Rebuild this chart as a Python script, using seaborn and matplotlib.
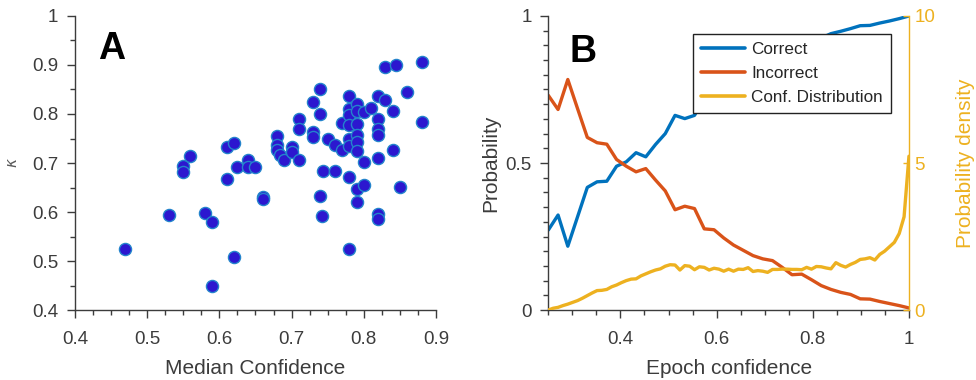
import numpy as np
import pandas as pd
import matplotlib
matplotlib.use("Agg")
import matplotlib.pyplot as plt
from matplotlib.ticker import MultipleLocator, FuncFormatter
import seaborn as sns

# Panel A: median confidence vs kappa (one point per subject)
median_conf = [0.47, 0.53, 0.55, 0.55, 0.56, 0.58, 0.59, 0.59, 0.61, 0.62,
               0.61, 0.62, 0.625, 0.64, 0.64, 0.65, 0.66, 0.66, 0.68, 0.68,
               0.68, 0.684, 0.69, 0.70, 0.70, 0.71, 0.71, 0.71, 0.73, 0.73,
               0.73, 0.74, 0.74, 0.75, 0.76, 0.77, 0.77, 0.744, 0.76, 0.74,
               0.742, 0.78, 0.78, 0.78, 0.78, 0.78, 0.78, 0.78, 0.78, 0.79,
               0.79, 0.79, 0.79, 0.79, 0.79, 0.79, 0.79, 0.80, 0.80, 0.80,
               0.81, 0.82, 0.82, 0.82, 0.82, 0.82, 0.82, 0.82, 0.83, 0.83,
               0.84, 0.84, 0.845, 0.85, 0.86, 0.88, 0.88]
kappa = [0.524, 0.594, 0.693, 0.682, 0.715, 0.598, 0.579, 0.450, 0.733, 0.740,
         0.668, 0.509, 0.692, 0.706, 0.692, 0.692, 0.631, 0.627, 0.755, 0.736,
         0.726, 0.716, 0.706, 0.733, 0.723, 0.707, 0.790, 0.770, 0.825, 0.764,
         0.753, 0.851, 0.801, 0.748, 0.736, 0.726, 0.782, 0.683, 0.683, 0.633,
         0.592, 0.836, 0.811, 0.798, 0.778, 0.748, 0.735, 0.672, 0.524, 0.821,
         0.806, 0.780, 0.757, 0.743, 0.725, 0.646, 0.621, 0.804, 0.703, 0.656,
         0.813, 0.836, 0.790, 0.770, 0.757, 0.710, 0.596, 0.586, 0.896, 0.828,
         0.806, 0.727, 0.899, 0.651, 0.845, 0.907, 0.783]

# Panel B: calibration curves
epoch_conf = np.linspace(0.25, 1.0, 38)
p_correct = [0.272, 0.323, 0.217, 0.317, 0.417, 0.436, 0.438, 0.489, 0.504, 0.535,
             0.521, 0.563, 0.600, 0.662, 0.651, 0.662, 0.720, 0.726, 0.753, 0.779,
             0.798, 0.815, 0.826, 0.834, 0.856, 0.880, 0.878, 0.897, 0.925, 0.940,
             0.948, 0.957, 0.967, 0.968, 0.976, 0.983, 0.991, 1.000]
p_incorrect = [0.730, 0.682, 0.784, 0.685, 0.587, 0.569, 0.564, 0.512, 0.489, 0.470,
               0.481, 0.442, 0.405, 0.341, 0.353, 0.345, 0.276, 0.273, 0.245, 0.221,
               0.203, 0.185, 0.174, 0.168, 0.145, 0.120, 0.122, 0.103, 0.083, 0.070,
               0.060, 0.053, 0.038, 0.037, 0.029, 0.022, 0.015, 0.007]
dist_conf = np.linspace(0.25, 1.0, 75)
conf_density = [0.00, 0.06, 0.09, 0.15, 0.20, 0.26, 0.32, 0.40, 0.49, 0.58,
                0.66, 0.67, 0.70, 0.79, 0.85, 0.93, 1.00, 1.05, 1.06, 1.16,
                1.23, 1.30, 1.36, 1.40, 1.49, 1.54, 1.53, 1.36, 1.51, 1.49,
                1.37, 1.47, 1.45, 1.36, 1.42, 1.39, 1.32, 1.39, 1.32, 1.39,
                1.38, 1.44, 1.31, 1.34, 1.32, 1.28, 1.38, 1.38, 1.39, 1.39,
                1.38, 1.38, 1.37, 1.45, 1.39, 1.48, 1.47, 1.43, 1.40, 1.61,
                1.52, 1.46, 1.55, 1.62, 1.72, 1.74, 1.78, 1.70, 1.89, 2.00,
                2.15, 2.30, 2.60, 3.17, 5.23]

sns.set_style("white")
plt.rcParams["font.family"] = ["Liberation Sans", "DejaVu Sans"]
plt.rcParams["mathtext.fontset"] = "dejavusans"

GRAY = "#3c3c3c"
BLUE = "#0072BD"
RED = "#D95319"
YELLOW = "#EDB120"
TICK_FS = 13.5
LABEL_FS = 15

fig = plt.figure(figsize=(9.76, 3.8), dpi=100)
ax_a = fig.add_axes([0.0768, 0.1842, 0.3699, 0.7737])
ax_b = fig.add_axes([0.5618, 0.1842, 0.3695, 0.7737])

fmt = FuncFormatter(lambda v, p: f"{v:g}")


def style_axis(ax):
    for side in ["top", "right"]:
        ax.spines[side].set_visible(False)
    for side in ["left", "bottom"]:
        ax.spines[side].set_color(GRAY)
        ax.spines[side].set_linewidth(1.0)
    ax.tick_params(which="both", direction="out", colors=GRAY, labelcolor=GRAY,
                   labelsize=TICK_FS, width=1.0, left=True, bottom=True)
    ax.tick_params(which="major", length=6, pad=6)
    ax.tick_params(which="minor", length=3.5)
    ax.tick_params(axis="x", which="major", pad=9)
    ax.xaxis.set_major_formatter(fmt)
    ax.yaxis.set_major_formatter(fmt)


# ---- Panel A ----
df_a = pd.DataFrame({"median": median_conf, "kappa": kappa})
sns.scatterplot(data=df_a, x="median", y="kappa", ax=ax_a, s=76,
                color="#2C17CF", edgecolor="#2384CC", linewidth=1.0, zorder=3)
ax_a.set_xlim(0.4, 0.9)
ax_a.set_ylim(0.4, 1.0)
ax_a.xaxis.set_major_locator(MultipleLocator(0.1))
ax_a.xaxis.set_minor_locator(MultipleLocator(0.025))
ax_a.yaxis.set_major_locator(MultipleLocator(0.1))
ax_a.yaxis.set_minor_locator(MultipleLocator(0.05))
style_axis(ax_a)
ax_a.set_xlabel("Median Confidence", fontsize=LABEL_FS, color=GRAY, labelpad=8)
ax_a.set_ylabel(r"$\kappa$", fontsize=11, color="#5a5a5a", labelpad=9)
ax_a.text(0.064, 0.95, "A", transform=ax_a.transAxes, fontsize=27,
          fontweight="bold", ha="left", va="top", color="black")

# ---- Panel B ----
sns.lineplot(x=epoch_conf, y=p_correct, ax=ax_b, color=BLUE, lw=2.4, label="Correct")
sns.lineplot(x=epoch_conf, y=p_incorrect, ax=ax_b, color=RED, lw=2.4, label="Incorrect")
ax_b.set_xlim(0.25, 1.0)
ax_b.set_ylim(0, 1)
ax_b.xaxis.set_major_locator(MultipleLocator(0.2))
ax_b.xaxis.set_minor_locator(MultipleLocator(0.05))
ax_b.yaxis.set_major_locator(MultipleLocator(0.5))
ax_b.yaxis.set_minor_locator(MultipleLocator(0.05))
style_axis(ax_b)
ax_b.set_xlabel("Epoch confidence", fontsize=LABEL_FS, color=GRAY, labelpad=8)
ax_b.set_ylabel("Probability", fontsize=LABEL_FS, color=GRAY, labelpad=4)

ax_r = ax_b.twinx()
sns.lineplot(x=dist_conf, y=conf_density, ax=ax_r, color=YELLOW, lw=2.4,
             label="Conf. Distribution")
ax_r.set_ylim(0, 10)
ax_r.yaxis.set_major_locator(MultipleLocator(5))
ax_r.yaxis.set_major_formatter(fmt)
for side in ["top", "left", "bottom"]:
    ax_r.spines[side].set_visible(False)
ax_r.spines["right"].set_color(YELLOW)
ax_r.spines["right"].set_linewidth(1.0)
ax_r.tick_params(axis="y", direction="in", length=4, width=1.0, colors=YELLOW,
                 labelcolor=YELLOW, labelsize=TICK_FS, pad=4)
ax_r.set_ylabel("Probability density", fontsize=LABEL_FS, color=YELLOW, labelpad=15)

h1, l1 = ax_b.get_legend_handles_labels()
h2, l2 = ax_r.get_legend_handles_labels()
ax_b.get_legend().remove()
ax_r.get_legend().remove()
leg = ax_r.legend(h1 + h2, l1 + l2, loc="upper right", bbox_to_anchor=(0.949, 0.939),
                  fontsize=12.3, frameon=True, fancybox=False, framealpha=1,
                  edgecolor="#222222", handlelength=2.6, handletextpad=0.35,
                  borderpad=0.45, labelspacing=0.55, borderaxespad=0)
leg.get_frame().set_linewidth(1.0)
for line in leg.get_lines():
    line.set_linewidth(2.6)

ax_b.text(0.06, 0.94, "B", transform=ax_b.transAxes, fontsize=27,
          fontweight="bold", ha="left", va="top", color="black")

fig.savefig("out.png", dpi=100)
